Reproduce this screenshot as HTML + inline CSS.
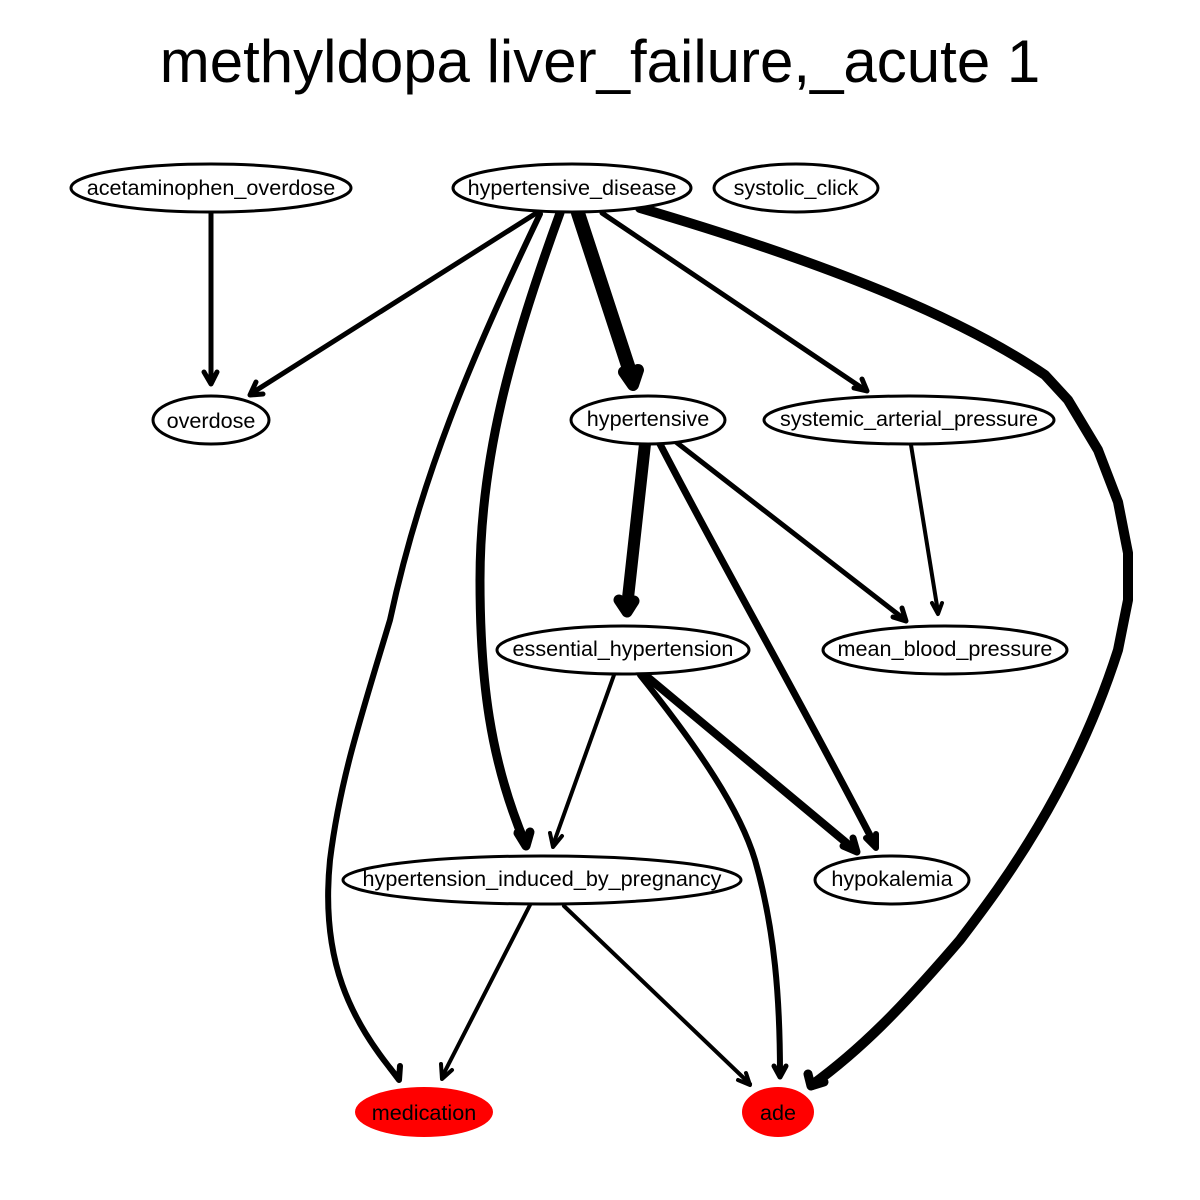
<!DOCTYPE html>
<html><head><meta charset="utf-8"><style>
html,body{margin:0;padding:0;background:#fff;width:1200px;height:1200px;overflow:hidden}
text{font-family:"Liberation Sans",sans-serif}
</style></head><body>
<svg width="1200" height="1200" viewBox="0 0 1200 1200" xmlns="http://www.w3.org/2000/svg">
<text x="600" y="82" font-size="60" text-anchor="middle">methyldopa liver_failure,_acute 1</text>
<g fill="none" stroke="#000" stroke-linecap="round" stroke-linejoin="round">
<path d="M211,213 L211,382" stroke-width="5"/>
<path d="M204,372 L211,384 L217,372" stroke-width="5"/>
<path d="M538,212 L252,393" stroke-width="5"/>
<path d="M256,382 L250,395 L263,394" stroke-width="5"/>
<path d="M540,214 C470,360 420,480 390,620 C360,720 340,780 330,860 C320,960 350,1020 398,1078" stroke-width="6"/>
<path d="M390,1068 L399,1080 L400,1066" stroke-width="6"/>
<path d="M560,213 C510,350 480,460 480,580 C480,680 490,760 525,843" stroke-width="9"/>
<path d="M518,833 L526,846 L530,832" stroke-width="9"/>
<path d="M578,213 L632,378" stroke-width="14"/>
<path d="M624,372 L633,385 L638,370" stroke-width="12"/>
<path d="M602,213 L865,390" stroke-width="5"/>
<path d="M854,388 L867,391 L862,379" stroke-width="5"/>
<path d="M640,208 C800,255 950,310 1045,375 L1068,400 L1098,450 L1118,502 L1128,553 L1128,600 L1118,650 C1070,800 990,900 960,940 C900,1010 860,1050 812,1085" stroke-width="10"/>
<path d="M808,1074 L811,1086 L824,1082" stroke-width="9"/>
<path d="M645,444 L627,607" stroke-width="12"/>
<path d="M619,600 L627,612 L634,601" stroke-width="11"/>
<path d="M660,444 C720,560 800,700 875,845" stroke-width="7"/>
<path d="M866,838 L876,848 L876,834" stroke-width="6"/>
<path d="M676,442 L904,619" stroke-width="5"/>
<path d="M893,617 L906,621 L902,608" stroke-width="5"/>
<path d="M911,445 L938,612" stroke-width="4"/>
<path d="M932,603 L938,614 L942,603" stroke-width="4"/>
<path d="M614,675 L553,845" stroke-width="4"/>
<path d="M550,833 L553,847 L562,836" stroke-width="4"/>
<path d="M645,675 L855,850" stroke-width="8"/>
<path d="M843,846 L857,852 L853,838" stroke-width="7"/>
<path d="M640,675 C700,750 740,810 755,860 C775,930 780,1000 780,1074" stroke-width="6"/>
<path d="M774,1066 L780,1077 L786,1066" stroke-width="5"/>
<path d="M530,905 L442,1077" stroke-width="4"/>
<path d="M441,1064 L442,1079 L452,1070" stroke-width="4"/>
<path d="M564,906 L750,1084" stroke-width="4"/>
<path d="M738,1080 L750,1085 L746,1073" stroke-width="4"/>
</g>
<g stroke="#000" stroke-width="3" fill="#fff">
<ellipse cx="211" cy="188" rx="140" ry="24"/>
<ellipse cx="572" cy="188" rx="119" ry="24"/>
<ellipse cx="796" cy="188" rx="82" ry="24"/>
<ellipse cx="211" cy="420" rx="58" ry="24"/>
<ellipse cx="648" cy="420" rx="77" ry="24"/>
<ellipse cx="909" cy="420" rx="145" ry="24"/>
<ellipse cx="623" cy="650" rx="126" ry="24"/>
<ellipse cx="945" cy="650" rx="122" ry="24"/>
<ellipse cx="542" cy="880" rx="199" ry="24"/>
<ellipse cx="892" cy="880" rx="77" ry="24"/>
</g>
<ellipse cx="424" cy="1112" rx="69" ry="25" fill="#f00"/>
<ellipse cx="778" cy="1112" rx="36" ry="25" fill="#f00"/>
<g font-size="21.6" text-anchor="middle">
<text x="211" y="195">acetaminophen_overdose</text>
<text x="572" y="195">hypertensive_disease</text>
<text x="796" y="195">systolic_click</text>
<text x="211" y="428">overdose</text>
<text x="648" y="426">hypertensive</text>
<text x="909" y="426">systemic_arterial_pressure</text>
<text x="623" y="656">essential_hypertension</text>
<text x="945" y="656">mean_blood_pressure</text>
<text x="542" y="886">hypertension_induced_by_pregnancy</text>
<text x="892" y="886">hypokalemia</text>
<text x="424" y="1120">medication</text>
<text x="778" y="1120">ade</text>
</g>
</svg>
</body></html>
